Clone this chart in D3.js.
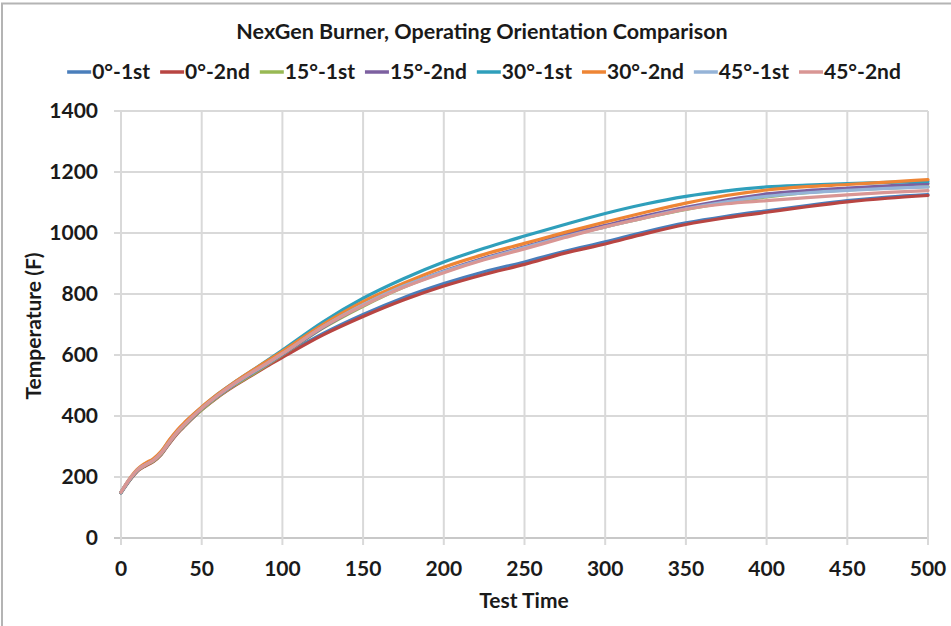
<!DOCTYPE html>
<html><head><meta charset="utf-8">
<script src="https://cdn.jsdelivr.net/npm/d3@7"></script>
<style>body{margin:0;background:#fff}svg{display:block}</style>
</head><body><svg id="c" width="951" height="626"></svg>
<script>
const chartTitle = "NexGen Burner, Operating Orientation Comparison";
const xTitle = "Test Time";
const yTitle = "Temperature (F)";
const times = [0,5,10,15,20,25,30,35,40,50,60,70,80,90,100,125,150,175,200,225,250,275,300,325,350,375,400,425,450,475,500];
const deg0_1st  = [150,188,220,238,252,276,312,345,372,422,465,502,533,565,597,670,733,788,834,873,905,940,971,1004,1033,1055,1073,1090,1106,1118,1126];
const deg0_2nd  = [148,186,218,236,250,274,310,343,370,420,462,498,530,562,592,665,726,780,826,864,897,934,964,998,1028,1050,1068,1086,1102,1114,1123];
const deg15_1st = [150,188,220,238,252,276,312,345,372,420,463,500,532,566,600,688,760,822,872,915,950,988,1020,1050,1077,1100,1118,1132,1141,1147,1152];
const deg15_2nd = [150,190,222,240,254,278,314,347,374,424,466,503,536,568,602,690,763,825,875,918,955,993,1025,1056,1084,1108,1128,1139,1147,1155,1162];
const deg30_1st = [148,188,222,242,257,283,320,352,380,428,472,510,545,580,616,708,786,850,905,950,990,1028,1064,1095,1120,1138,1151,1157,1162,1166,1169];
const deg30_2nd = [150,192,225,245,260,285,322,355,382,430,472,510,545,578,612,700,775,835,888,930,966,1002,1036,1068,1098,1123,1141,1152,1159,1167,1175];
const deg45_1st = [150,190,222,240,254,279,315,348,375,425,467,504,538,570,604,692,765,826,874,915,952,988,1020,1051,1079,1102,1120,1132,1140,1146,1151];
const deg45_2nd = [150,190,222,240,254,279,315,348,376,425,468,506,540,572,605,692,762,822,870,912,948,985,1020,1050,1078,1096,1106,1116,1125,1133,1139];
const seriesNames = ["0°-1st","0°-2nd","15°-1st","15°-2nd","30°-1st","30°-2nd","45°-1st","45°-2nd"];
const seriesValues = [deg0_1st,deg0_2nd,deg15_1st,deg15_2nd,deg30_1st,deg30_2nd,deg45_1st,deg45_2nd];
const seriesColors = ["#4a7ebb","#b84542","#98b954","#7d60a0","#2f9fbb","#ee8534","#95b3d7","#d99694"];
const xTicks = [0,50,100,150,200,250,300,350,400,450,500];
const yTicks = [0,200,400,600,800,1000,1200,1400];

const FONT = "Lato, 'Liberation Sans', sans-serif";
const svg = d3.select("#c");
svg.append("rect").attr("x",0).attr("y",0).attr("width",951).attr("height",626).attr("fill","#fff");
svg.append("rect").attr("x",2).attr("y",3.5).attr("width",1000).attr("height",700)
  .attr("fill","none").attr("stroke","#b4b4b4").attr("stroke-width",2);

const L=121, R=928, T=111, B=538;
const x = d3.scaleLinear().domain([0,500]).range([L,R]);
const y = d3.scaleLinear().domain([0,1400]).range([B,T]);

// gridlines
const g = svg.append("g");
g.selectAll(".hg").data(yTicks).join("line")
  .attr("x1",L-7).attr("x2",R).attr("y1",d=>y(d)).attr("y2",d=>y(d))
  .attr("stroke",d=>d===0?"#c8c8c8":"#d9d9d9").attr("stroke-width",2);
g.selectAll(".vg").data(xTicks).join("line")
  .attr("x1",d=>x(d)).attr("x2",d=>x(d)).attr("y1",T).attr("y2",B+7)
  .attr("stroke","#d9d9d9").attr("stroke-width",2);

// axis tick labels
svg.append("g").selectAll("text").data(yTicks).join("text")
  .attr("x",L-23).attr("y",d=>y(d)).attr("dy","0.35em").attr("text-anchor","end")
  .attr("font-family",FONT).attr("font-weight",700).attr("font-size",21).attr("fill","#1a1a1a")
  .text(d=>d);
svg.append("g").selectAll("text").data(xTicks).join("text")
  .attr("x",d=>x(d)).attr("y",569).attr("dy","0.35em").attr("text-anchor","middle")
  .attr("font-family",FONT).attr("font-weight",700).attr("font-size",21).attr("fill","#1a1a1a")
  .text(d=>d);

// titles
svg.append("text").attr("x",482).attr("y",31).attr("dy","0.35em").attr("text-anchor","middle")
  .attr("font-family",FONT).attr("font-weight",700).attr("font-size",21.5).attr("fill","#1a1a1a").text(chartTitle);
svg.append("text").attr("x",524).attr("y",601).attr("dy","0.35em").attr("text-anchor","middle")
  .attr("font-family",FONT).attr("font-weight",700).attr("font-size",21).attr("fill","#1a1a1a").text(xTitle);
svg.append("text").attr("transform","translate(34,326) rotate(-90)").attr("dy","0.35em").attr("text-anchor","middle")
  .attr("font-family",FONT).attr("font-weight",700).attr("font-size",21).attr("fill","#1a1a1a").text(yTitle);

// lines
const line = d3.line().x((d,i)=>x(times[i])).y(d=>y(d)).curve(d3.curveMonotoneX);
const lg = svg.append("g");
seriesValues.forEach((vals,k)=>{
  lg.append("path").attr("d",line(vals)).attr("fill","none")
    .attr("stroke",seriesColors[k]).attr("stroke-width",3.2).attr("stroke-linejoin","round").attr("stroke-linecap","round");
});

// legend
const leg = svg.append("g");
const items = seriesNames.map((n,k)=>{
  const it = leg.append("g");
  it.append("line").attr("x1",0).attr("x2",24).attr("y1",0).attr("y2",0)
    .attr("stroke",seriesColors[k]).attr("stroke-width",3.5);
  const t = it.append("text").attr("x",25).attr("dy","0.35em")
    .attr("font-family",FONT).attr("font-weight",700).attr("font-size",21).attr("fill","#1a1a1a").text(n);
  return {g:it, w:25+t.node().getComputedTextLength()};
});
const gap = 10;
const total = d3.sum(items,d=>d.w)+gap*(items.length-1);
let cx = 484 - total/2;
items.forEach(d=>{ d.g.attr("transform",`translate(${cx},72)`); cx += d.w+gap; });
</script>
</body></html>
